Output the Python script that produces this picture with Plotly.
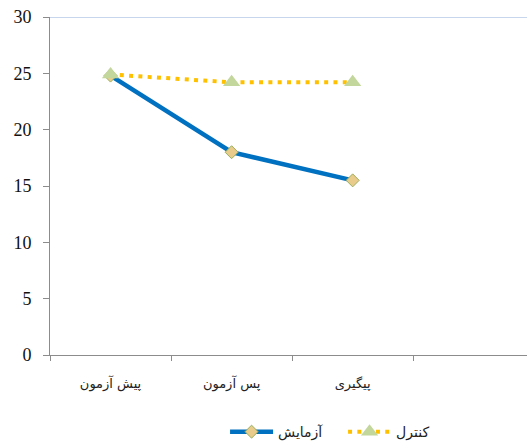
import plotly.graph_objects as go

categories = ["پیش آزمون", "پس آزمون", "پیگیری"]
experiment = [24.8, 18.0, 15.5]
control = [24.9, 24.2, 24.2]
series_names = ["آزمایش", "کنترل"]

fig = go.Figure()
fig.add_trace(go.Scatter(
    x=categories, y=experiment, name=series_names[0], mode="lines+markers",
    line=dict(color="#0070C0", width=4.5),
    marker=dict(symbol="diamond", size=10, color="#E9CB8C",
                line=dict(color="#9BAF5A", width=1)),
))
fig.add_trace(go.Scatter(
    x=categories, y=control, name=series_names[1], mode="lines+markers",
    line=dict(color="#FFC000", width=4, dash="4px,5.3px"),
    marker=dict(symbol="triangle-up", size=15, color="#C3D69B"),
))

fig.update_layout(
    width=527, height=444,
    margin=dict(l=50, r=0, t=17, b=89, autoexpand=False),
    plot_bgcolor="white", paper_bgcolor="white",
    showlegend=True,
    legend=dict(orientation="h", x=0.367, xanchor="left", y=-0.228, yanchor="middle",
                itemwidth=43, entrywidth=60, entrywidthmode="pixels",
                font=dict(family="DejaVu Sans", size=14, color="#222"),
                bgcolor="rgba(0,0,0,0)"),
    xaxis=dict(type="category", categoryorder="array", categoryarray=categories,
               range=[-0.5, 3.44], showgrid=False, zeroline=False,
               showline=True, linecolor="#8C8C8C", linewidth=1,
               ticks="outside", ticklen=5, tickcolor="#8C8C8C", tickson="boundaries",
               ticklabelstandoff=16, automargin=False,
               tickfont=dict(family="DejaVu Sans", size=13, color="#222")),
    yaxis=dict(range=[0, 30], dtick=5, showgrid=False, zeroline=False,
               showline=True, linecolor="#8C8C8C", linewidth=1,
               ticks="outside", ticklen=6, tickcolor="#8C8C8C",
               ticklabelstandoff=8, automargin=False,
               tickfont=dict(family="Liberation Serif", size=18, color="#111")),
    shapes=[dict(type="line", xref="paper", yref="y", x0=0, x1=1, y0=30, y1=30,
                 line=dict(color="#B4C7E7", width=1.5))],
)

fig.write_html(
    "out.html",
    config={"displayModeBar": False},
    post_script="document.body.style.margin='0';document.body.style.overflow='hidden';",
)
